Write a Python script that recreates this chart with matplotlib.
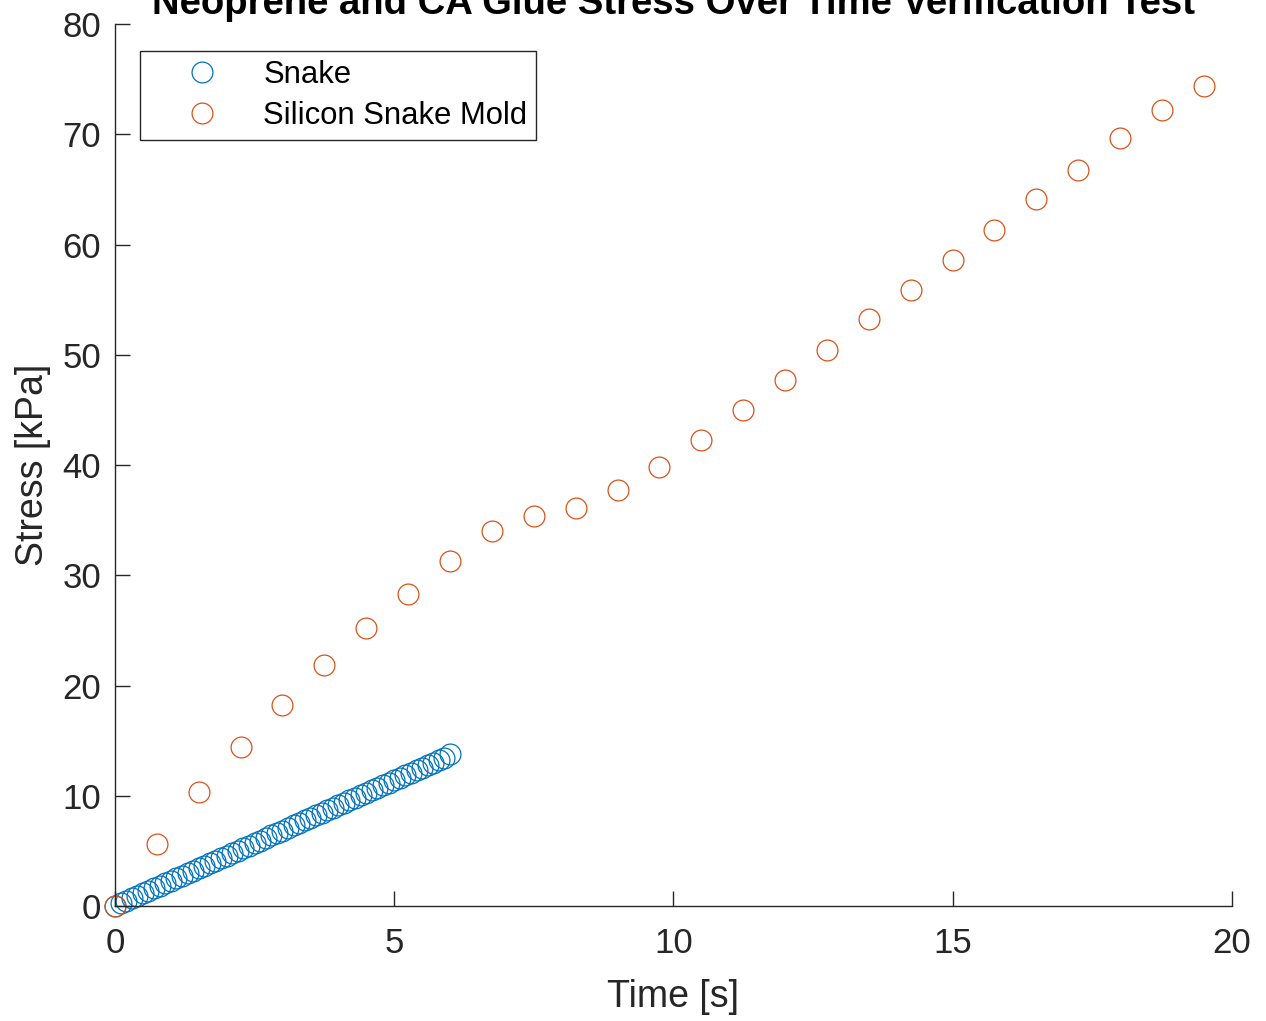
import matplotlib
matplotlib.use("Agg")
import matplotlib.pyplot as plt

plt.rcParams['font.family'] = ['Liberation Sans', 'DejaVu Sans']

# Snake series (dense samples, 0.1 s)
snake_t = [0.0, 0.1, 0.2, 0.3, 0.4, 0.5, 0.6, 0.7, 0.8, 0.9,
           1.0, 1.1, 1.2, 1.3, 1.4, 1.5, 1.6, 1.7, 1.8, 1.9,
           2.0, 2.1, 2.2, 2.3, 2.4, 2.5, 2.6, 2.7, 2.8, 2.9,
           3.0, 3.1, 3.2, 3.3, 3.4, 3.5, 3.6, 3.7, 3.8, 3.9,
           4.0, 4.1, 4.2, 4.3, 4.4, 4.5, 4.6, 4.7, 4.8, 4.9,
           5.0, 5.1, 5.2, 5.3, 5.4, 5.5, 5.6, 5.7, 5.8, 5.9, 6.0]
snake_stress = [0.0, 0.25, 0.5, 0.72, 0.95, 1.18, 1.4, 1.63, 1.86, 2.08,
                2.3, 2.53, 2.76, 2.99, 3.21, 3.44, 3.67, 3.9, 4.12, 4.35,
                4.58, 4.81, 5.03, 5.26, 5.49, 5.72, 5.94, 6.17, 6.4, 6.63,
                6.85, 7.08, 7.31, 7.54, 7.76, 7.99, 8.22, 8.45, 8.67, 8.9,
                9.13, 9.36, 9.58, 9.81, 10.04, 10.27, 10.49, 10.72, 10.95, 11.18,
                11.4, 11.63, 11.86, 12.09, 12.31, 12.54, 12.77, 13.0, 13.22, 13.45, 13.75]

# Silicon snake mold series
mold_t = [0.0, 0.75, 1.5, 2.25, 3.0, 3.75, 4.5, 5.25, 6.0, 6.75, 7.5, 8.25, 9.0, 9.75,
          10.5, 11.25, 12.0, 12.75, 13.5, 14.25, 15.0, 15.75, 16.5, 17.25, 18.0, 18.75, 19.5]
mold_stress = [0.0, 5.6, 10.3, 14.4, 18.2, 21.9, 25.2, 28.3, 31.3, 34.0, 35.4, 36.1, 37.7, 39.8,
               42.3, 45.0, 47.7, 50.4, 53.2, 55.9, 58.6, 61.3, 64.1, 66.8, 69.7, 72.2, 74.4]

x_ticks = [0, 5, 10, 15, 20]
y_ticks = [0, 10, 20, 30, 40, 50, 60, 70, 80]

fig = plt.figure(figsize=(12.66, 10.21), dpi=100)
ax = fig.add_axes([0.0908, 0.1126, 0.8822, 0.8639])

ax.plot(snake_t, snake_stress, linestyle='none', marker='o', markersize=15,
        markerfacecolor='none', markeredgecolor='#0072BD', markeredgewidth=0.9,
        label='Snake', clip_on=False)
ax.plot(mold_t, mold_stress, linestyle='none', marker='o', markersize=15,
        markerfacecolor='none', markeredgecolor='#D95319', markeredgewidth=0.9,
        label='Silicon Snake Mold', clip_on=False)

ax.set_xlim(0, 20)
ax.set_ylim(0, 80)
ax.set_xticks(x_ticks)
ax.set_yticks(y_ticks)
ax.spines['top'].set_visible(False)
ax.spines['right'].set_visible(False)
for s in ['left', 'bottom']:
    ax.spines[s].set_color('#262626')
    ax.spines[s].set_linewidth(1.0)
ax.tick_params(direction='in', length=11, width=1.0, colors='#262626',
               labelsize=25, labelcolor='#262626')
ax.tick_params(axis='x', pad=15)
ax.tick_params(axis='y', pad=10)

ax.set_xlabel('Time [s]', fontsize=27, color='#262626', labelpad=14)
ax.set_ylabel('Stress [kPa]', fontsize=27, color='#262626', labelpad=8)
ax.set_title('Neoprene and CA Glue Stress Over Time Verification Test',
             fontsize=27.5, fontweight='bold', color='black', pad=7)

leg = ax.legend(loc='upper left', bbox_to_anchor=(0.0225, 0.969), fontsize=22.3,
                frameon=True, fancybox=False, framealpha=1, edgecolor='#262626',
                handlelength=3.44, handletextpad=0.26, borderpad=0.28, labelspacing=0.36,
                borderaxespad=0.0)
leg.get_frame().set_linewidth(1.0)

fig.savefig('out.png', dpi=100)
